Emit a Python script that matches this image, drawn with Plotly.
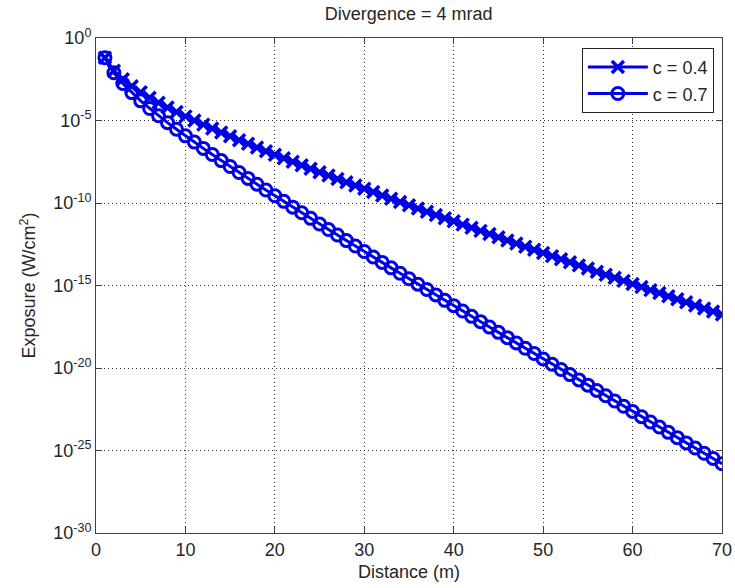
import plotly.graph_objects as go

# Distance (m)
distance = list(range(1, 71))

# log10 of exposure (W/cm^2)
log_exposure_c04 = [
    -1.20, -1.98, -2.50, -2.92, -3.29, -3.62, -3.92, -4.21, -4.49, -4.75,
    -5.00, -5.25, -5.49, -5.73, -5.96, -6.19, -6.41, -6.64, -6.86, -7.07,
    -7.29, -7.50, -7.71, -7.92, -8.13, -8.33, -8.54, -8.74, -8.94, -9.14,
    -9.34, -9.54, -9.74, -9.94, -10.14, -10.33, -10.53, -10.73, -10.92, -11.11,
    -11.31, -11.50, -11.69, -11.88, -12.08, -12.27, -12.46, -12.65, -12.84, -13.03,
    -13.22, -13.41, -13.59, -13.78, -13.97, -14.16, -14.35, -14.53, -14.72, -14.91,
    -15.09, -15.28, -15.46, -15.65, -15.84, -16.02, -16.21, -16.39, -16.58, -16.76,
]
log_exposure_c07 = [
    -1.20, -2.11, -2.76, -3.31, -3.81, -4.27, -4.71, -5.13, -5.53, -5.93,
    -6.31, -6.69, -7.06, -7.43, -7.79, -8.15, -8.51, -8.86, -9.21, -9.56,
    -9.90, -10.25, -10.59, -10.93, -11.27, -11.61, -11.94, -12.28, -12.61, -12.94,
    -13.27, -13.60, -13.93, -14.26, -14.59, -14.92, -15.24, -15.57, -15.90, -16.22,
    -16.55, -16.87, -17.19, -17.52, -17.84, -18.16, -18.48, -18.80, -19.12, -19.45,
    -19.77, -20.09, -20.40, -20.72, -21.04, -21.36, -21.68, -22.00, -22.32, -22.63,
    -22.95, -23.27, -23.58, -23.90, -24.22, -24.54, -24.85, -25.17, -25.48, -25.80,
]

series_names = ["c = 0.4", "c = 0.7"]
y_tick_exponents = [0, -5, -10, -15, -20, -25, -30]
y_tick_text = ["10<sup>%d</sup>" % e for e in y_tick_exponents]
x_tick_vals = [0, 10, 20, 30, 40, 50, 60, 70]

blue = "#0000E6"
font = "Liberation Sans, Arial, sans-serif"
txt = "#262626"
fs = 18

fig = go.Figure()
fig.add_trace(go.Scatter(
    x=distance, y=[10 ** v for v in log_exposure_c04], name=series_names[0],
    mode="lines+markers",
    line=dict(color=blue, width=3),
    marker=dict(symbol="x-thin-open", size=12, color=blue, line=dict(color=blue, width=3.5)),
))
fig.add_trace(go.Scatter(
    x=distance, y=[10 ** v for v in log_exposure_c07], name=series_names[1],
    mode="lines+markers",
    line=dict(color=blue, width=3),
    marker=dict(symbol="circle-open", size=12, color=blue, line=dict(color=blue, width=3)),
))

axis_common = dict(
    showline=True, linecolor="#404040", linewidth=1, mirror="allticks",
    ticks="inside", ticklen=6, tickcolor="#404040",
    showgrid=True, gridcolor="#303030", griddash="1px,3px", gridwidth=1,
    zeroline=False, automargin=False, tickfont=dict(family=font, size=fs, color=txt),
)

fig.update_layout(
    width=735, height=588,
    margin=dict(l=96, r=13, t=38, b=55),
    paper_bgcolor="white", plot_bgcolor="white",
    font=dict(family=font, size=fs, color=txt),
    title=dict(text="Divergence = 4 mrad", x=0.556, xanchor="center", y=0.976, yanchor="middle",
               font=dict(family=font, size=fs, color=txt), automargin=False),
    xaxis=dict(range=[0, 70], tickvals=x_tick_vals, title=dict(text="Distance (m)", standoff=6,
               font=dict(family=font, size=fs, color=txt)), **axis_common),
    yaxis=dict(type="log", range=[-30, 0], tickvals=[10.0 ** e for e in y_tick_exponents],
               ticktext=y_tick_text,
               title=dict(text="Exposure (W/cm<sup>2</sup>)", standoff=12,
                          font=dict(family=font, size=fs, color=txt)), **axis_common),
    legend=dict(x=0.987, y=0.98, xanchor="right", yanchor="top",
                bgcolor="white", bordercolor="#222222", borderwidth=1,
                font=dict(family=font, size=fs, color=txt),
                tracegroupgap=0, itemwidth=60),
    showlegend=True,
)

fig.write_html("out.html", config={"displayModeBar": False},
               post_script="document.body.style.margin='0px';document.body.style.overflow='hidden';")
